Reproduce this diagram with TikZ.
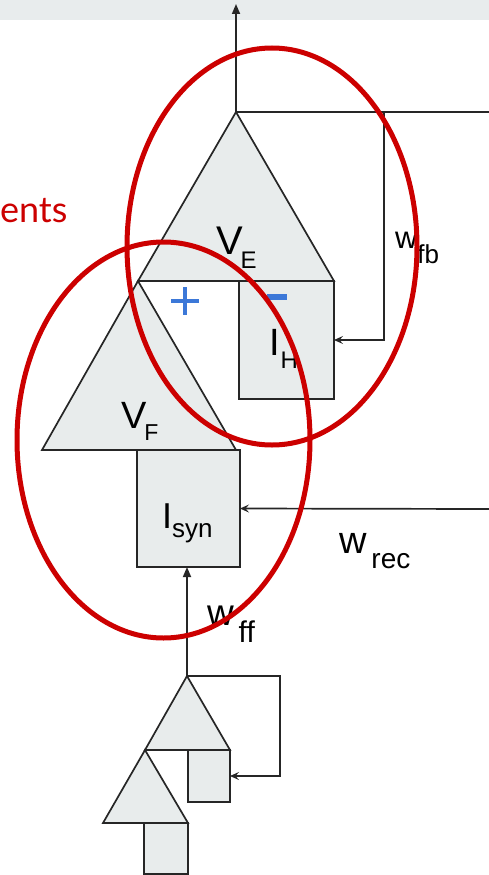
\documentclass[tikz,border=0pt]{standalone}
\usepackage{fontspec}
\setmainfont{Liberation Sans}
\newfontfamily\latofont{Lato}
\usetikzlibrary{arrows.meta}
\definecolor{cellfill}{HTML}{E8ECEC}
\definecolor{bandgray}{HTML}{E8ECED}
\definecolor{ringred}{HTML}{CC0000}
\definecolor{signblue}{HTML}{3C78D8}
\newcommand{\fsz}[1]{\fontsize{#1}{#1}\selectfont}
\begin{document}
\begin{tikzpicture}[x=1pt,y=-1pt,line join=miter,
  wire/.style={line width=1.7pt,draw=black!85},
  cell/.style={wire,fill=cellfill},
  cellbox/.style={cell,rectangle,inner sep=0pt,outer sep=0pt,anchor=north west},
  ring/.style={draw=ringred,line width=5pt},
  solidtip/.style={-{Triangle[length=10pt,width=8pt]}},
  opentip/.style={-{Stealth[length=9pt,width=8pt,inset=3.5pt]}},
  lbl/.style={anchor=base west,inner sep=0pt,outer sep=0pt,text=black}]
\useasboundingbox (0,0) rectangle (489,875);
\fill[bandgray] (0,0) rectangle (489,20);

% ---- excitatory unit V_E with inhibitory current I_H ----
\coordinate (EA) at (236,112);
\coordinate (EL) at (138,281);
\coordinate (ER) at (334,281);
\node[cellbox,minimum width=95pt,minimum height=118pt] (IH) at (239,281) {};
\filldraw[cell] (EA) -- (EL) -- (ER) -- cycle;

% ---- unit V_F with synaptic current I_syn ----
\coordinate (FA) at (138,281);
\coordinate (FL) at (42,450);
\coordinate (FR) at (236,450);
\node[cellbox,minimum width=103pt,minimum height=117pt] (Isyn) at (137,450) {};
\filldraw[cell] (FA) -- (FL) -- (FR) -- cycle;

% ---- small input units ----
\coordinate (SA) at (187,676);
\coordinate (SL) at (145,750);
\coordinate (SR) at (230,750);
\node[cellbox,minimum width=42pt,minimum height=52pt] (sbox) at (188,750) {};
\filldraw[cell] (SA) -- (SL) -- (SR) -- cycle;

\coordinate (TA) at (145,750);
\coordinate (TL) at (103,823);
\coordinate (TR) at (188,823);
\node[cellbox,minimum width=44pt,minimum height=51pt] (tbox) at (144,823) {};
\filldraw[cell] (TA) -- (TL) -- (TR) -- cycle;

% ---- connections ----
\coordinate (out) at (236,4);
\draw[wire,solidtip] (EA) -- (out);
\coordinate (fbend) at (489,112);
\coordinate (fbturn) at (384,112);
\draw[wire] (EA) -- (fbend);
\draw[wire,opentip] (fbturn) |- (IH.east);

\coordinate (recin) at (489,509);
\draw[wire,opentip] (recin) -- (Isyn.east);
\draw[wire,solidtip] (SA) -- (SA |- Isyn.south);

\coordinate (sturn) at (280,676);
\draw[wire,opentip] (SA) -- (sturn) |- (sbox.east);

% ---- signs ----
\draw[signblue,line width=4pt] (171,301) -- (199,301);
\draw[signblue,line width=4pt] (185,287) -- (185,315);
\draw[signblue,line width=6pt] (267,297) -- (287,297);

% ---- labels ----
\node[lbl] (lVE) at (216,254) {\fsz{40}V\hspace{-2pt}\raisebox{-14pt}{\fsz{24}E}};
\node[lbl] (lIH) at (269.5,355) {\fsz{38}I\hspace{0.5pt}\raisebox{-13pt}{\fsz{24}H}};
\node[lbl] (lVF) at (121,428) {\fsz{38}V\hspace{-2pt}\raisebox{-12pt}{\fsz{23}F}};
\node[lbl] (lIsyn) at (162,528) {\fsz{36}I\raisebox{-9pt}{\fsz{26}syn}};
\node[lbl] (lwfb) at (395,248) {\fsz{31}w\raisebox{-15pt}{\fsz{26}fb}};
\node[lbl] (lwrec) at (339,553) {\fsz{38}w\hspace{5pt}\raisebox{-15pt}{\fsz{28}rec}};
\node[lbl] (lwff) at (207,625) {\fsz{37}w\hspace{5pt}\raisebox{-17pt}{\fsz{30}ff}};
\node[lbl,text=ringred] (lents) at (0,222) {\latofont\fsz{36}ents};

% ---- highlighted groups ----
\draw[ring] (272,246.5) ellipse [x radius=145,y radius=198.5];
\draw[ring] (163.5,440) ellipse [x radius=146.5,y radius=198];
\end{tikzpicture}
\end{document}
